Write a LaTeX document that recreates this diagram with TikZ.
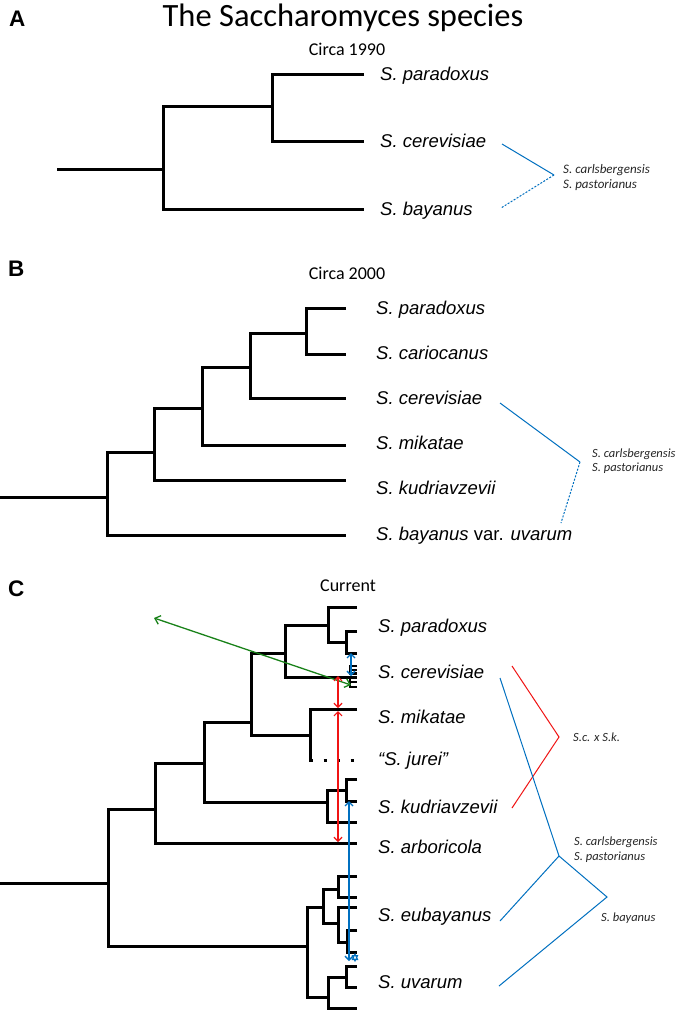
\documentclass[tikz,border=0pt]{standalone}
\usepackage{fontspec}
\setmainfont{Liberation Sans}
\newfontfamily\carlfont{Carlito}
\usetikzlibrary{arrows.meta}
\definecolor{annblue}{RGB}{0,112,192}
\definecolor{annred}{RGB}{240,20,20}
\definecolor{anngreen}{RGB}{25,130,25}
\begin{document}
\begin{tikzpicture}[x=1pt,y=-1pt,
  br/.style={line width=3pt, line join=miter},
  tinybr/.style={line width=2.2pt, line join=miter},
  sp/.style={font=\fontsize{18.5}{20}\selectfont\itshape, anchor=base west, inner sep=0pt},
  small/.style={font=\carlfont\fontsize{12.5}{14}\selectfont\itshape, anchor=base west, inner sep=0pt, text=black!85},
  panel/.style={font=\fontsize{22.5}{24}\selectfont\bfseries, anchor=base west, inner sep=0pt},
  head/.style={font=\carlfont\fontsize{18}{20}\selectfont, anchor=base, inner sep=0pt},
  bline/.style={annblue, line width=1pt},
  bdash/.style={annblue, line width=1pt, dash pattern=on 2pt off 1.5pt},
  rline/.style={annred, line width=1pt},
  tip/.style={{Straight Barb[length=4pt,width=8pt]}-{Straight Barb[length=4pt,width=8pt]}},
  gtip/.style={{Straight Barb[length=5pt,width=9pt]}-{Straight Barb[length=5pt,width=9pt]}}
]
\useasboundingbox (0,0) rectangle (677,1013);
\fill[white] (0,0) rectangle (677,1013);

% ---------------- Panel A ----------------
\node[panel] (pA) at (9,26) {A};
\node[anchor=base, inner sep=0pt, font=\carlfont\fontsize{32.5}{36}\selectfont] (title) at (343,26) {The Saccharomyces species};
\node[head] (hA) at (347,55) {Circa 1990};
\draw[br] (57,169) -- (163,169);
\draw[br] (272,106) -- (163,106) -- (163,209) -- (364,209);
\draw[br] (364,74) -- (272,74) -- (272,141) -- (364,141);
\node[sp] (a1) at (380,80.6) {S. paradoxus};
\node[sp] (a2) at (380,147.6) {S. cerevisiae};
\node[sp] (a3) at (380,215.6) {S. bayanus};
\coordinate (aj) at (554,175);
\draw[bline] (502,144) -- (aj);
\draw[bdash] (aj) -- (501,208);
\node[small, font=\carlfont\fontsize{13}{14}\selectfont\itshape] (ac) at (563,173) {S. carlsbergensis};
\node[small, font=\carlfont\fontsize{13}{14}\selectfont\itshape] (ap) at (563,188) {S. pastorianus};

% ---------------- Panel B ----------------
\node[panel] (pB) at (8,276) {B};
\node[head] (hB) at (347,279) {Circa 2000};
\draw[br] (0,497) -- (107,497);
\draw[br] (154,452) -- (107,452) -- (107,535) -- (346,535);
\draw[br] (202,408) -- (154,408) -- (154,480) -- (346,480);
\draw[br] (250,367) -- (202,367) -- (202,445) -- (346,445);
\draw[br] (306,333) -- (250,333) -- (250,398) -- (346,398);
\draw[br] (346,308) -- (306,308) -- (306,354) -- (346,354);
\node[sp] (b1) at (376,314.8) {S. paradoxus};
\node[sp] (b2) at (376,359.6) {S. cariocanus};
\node[sp] (b3) at (376,404.6) {S. cerevisiae};
\node[sp] (b4) at (376,449.6) {S. mikatae};
\node[sp] (b5) at (376,494.6) {S. kudriavzevii};
\node[sp] (b6) at (376,540.6) {S. bayanus \upshape var. \itshape uvarum};
\coordinate (bj) at (580,462);
\draw[bline] (500,403) -- (bj);
\draw[bdash] (bj) -- (561,523);
\node[small] (bc) at (592,457) {S. carlsbergensis};
\node[small] (bp) at (592,471.5) {S. pastorianus};

% ---------------- Panel C ----------------
\node[panel] (pC) at (8,596) {C};
\node[head] (hC) at (348,591) {Current};
\draw[br] (0,883) -- (108,883);
\draw[br] (155,809) -- (108,809) -- (108,946) -- (307,946);
\draw[br] (204,763) -- (155,763) -- (155,843) -- (357,843);
\draw[br] (251,722) -- (204,722) -- (204,802) -- (327,802);
\draw[br] (285,653) -- (251,653) -- (251,735) -- (310,735);
\draw[br] (328,625) -- (285,625) -- (285,677) -- (357,677);
\draw[br] (357,607) -- (328,607) -- (328,642) -- (346,642);
\draw[br] (357,631) -- (346,631) -- (346,653) -- (357,653);
\draw[tinybr] (357,666) -- (350,666) -- (350,673.5) -- (357,673.5);
\draw[tinybr] (350,669.8) -- (357,669.8);
\draw[tinybr] (350,677) -- (350,687) -- (357,687);
\draw[tinybr] (350,682) -- (357,682);
\draw[br] (357,709) -- (310,709) -- (310,760) -- (313,760);
\draw[line width=3pt, dash pattern=on 3pt off 10.5pt] (323.5,760) -- (357,760);
\draw[br] (346,790) -- (327,790) -- (327,822) -- (357,822);
\draw[br] (357,779) -- (346,779) -- (346,801) -- (357,801);
\draw[br] (323,907) -- (307,907) -- (307,997) -- (328,997);
\draw[br] (338,889) -- (323,889) -- (323,923) -- (338,923);
\draw[br] (357,876) -- (338,876) -- (338,897) -- (357,897);
\draw[br] (357,907) -- (338,907) -- (338,942) -- (347,942);
\draw[br] (357,930) -- (347,930) -- (347,952) -- (357,952);
\draw[br] (346,977) -- (328,977) -- (328,1008) -- (357,1008);
\draw[br] (357,966) -- (346,966) -- (346,987) -- (357,987);

\node[sp] (c1) at (378,632.6) {S. paradoxus};
\node[sp] (c2) at (378,678.6) {S. cerevisiae};
\node[sp] (c3) at (378,723.6) {S. mikatae};
\node[sp] (c4) at (378,765.6) {“S. jurei”};
\node[sp] (c5) at (378,813.6) {S. kudriavzevii};
\node[sp] (c6) at (378,853.6) {S. arboricola};
\node[sp] (c7) at (378,921.6) {S. eubayanus};
\node[sp] (c8) at (378,988.6) {S. uvarum};

% arrows
\coordinate (g1) at (351,685);
\coordinate (g2) at (154,618);
\draw[anngreen, line width=1.3pt, gtip] (g1) -- (g2);
\coordinate (r1) at (338,676);
\coordinate (r2) at (338,708);
\coordinate (r3) at (338,711);
\coordinate (r4) at (338,842);
\draw[annred, line width=1.2pt, tip] (r1) -- (r2);
\draw[annred, line width=1.2pt, tip] (r3) -- (r4);
\coordinate (u1) at (351,653);
\coordinate (u2) at (351,676);
\coordinate (u3) at (349,801);
\coordinate (u4) at (349,961);
\draw[annblue, line width=1.4pt, tip] (u1) -- (u2);
\draw[annblue, line width=1.4pt, tip] (u3) -- (u4);
\draw[annblue, line width=1pt] (355,954) -- (357.6,959.5) -- (352.4,959.5) -- cycle;
\draw[annblue, line width=1pt] (355,961) -- (357.6,955.5) -- (352.4,955.5) -- cycle;

% hybrids
\coordinate (rj) at (559,737);
\draw[rline] (512,666) -- (rj) -- (512,808);
\node[small] (sck) at (573,741) {S.c. x S.k.};
\coordinate (hj) at (559,856);
\coordinate (bayj) at (607,897);
\draw[bline] (500,678) -- (hj) -- (bayj) -- (499,986);
\draw[bline] (hj) -- (500,921);
\node[small] (cc) at (574,845) {S. carlsbergensis};
\node[small] (cp) at (574,860) {S. pastorianus};
\node[small] (cb) at (601,921) {S. bayanus};
\end{tikzpicture}
\end{document}
